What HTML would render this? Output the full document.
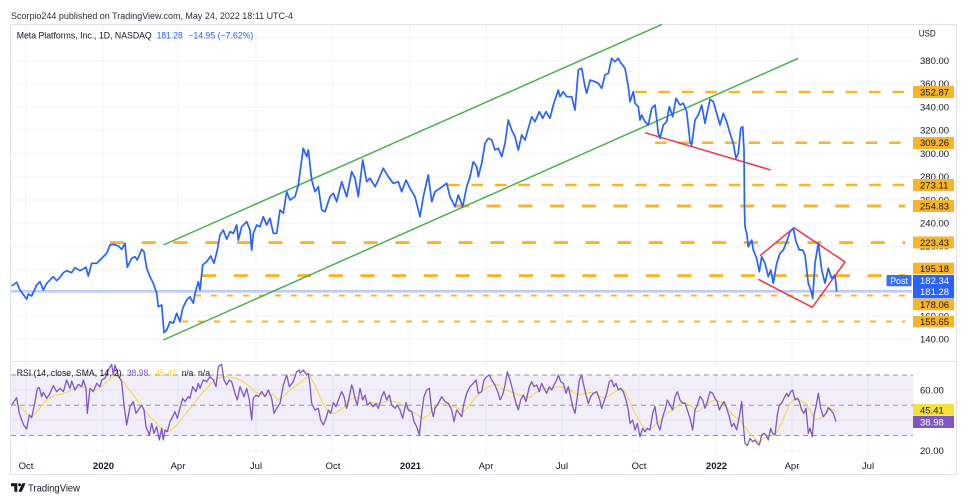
<!DOCTYPE html>
<html><head><meta charset="utf-8"><style>
html,body{margin:0;padding:0;background:#fff;}
body{width:969px;height:504px;overflow:hidden;}
svg{display:block;font-family:"Liberation Sans",Arial,sans-serif;}
</style></head><body>
<svg width="969" height="504" viewBox="0 0 969 504" xmlns="http://www.w3.org/2000/svg">
<rect width="969" height="504" fill="#fff"/>
<text x="11" y="19" font-size="8.8" fill="#2a2e39" textLength="282" lengthAdjust="spacingAndGlyphs">Scorpio244 published on TradingView.com, May 24, 2022 18:11 UTC-4</text>
<rect x="10.5" y="24.5" width="946" height="450" fill="none" stroke="#e0e3eb" stroke-width="1"/>
<g stroke="#f0f3fa" stroke-width="1">
<line x1="11" x2="913" y1="37.5" y2="37.5"/>
<line x1="11" x2="913" y1="60.7" y2="60.7"/>
<line x1="11" x2="913" y1="83.9" y2="83.9"/>
<line x1="11" x2="913" y1="107.1" y2="107.1"/>
<line x1="11" x2="913" y1="130.3" y2="130.3"/>
<line x1="11" x2="913" y1="153.6" y2="153.6"/>
<line x1="11" x2="913" y1="176.8" y2="176.8"/>
<line x1="11" x2="913" y1="200" y2="200"/>
<line x1="11" x2="913" y1="223.2" y2="223.2"/>
<line x1="11" x2="913" y1="246.4" y2="246.4"/>
<line x1="11" x2="913" y1="269.6" y2="269.6"/>
<line x1="11" x2="913" y1="292.8" y2="292.8"/>
<line x1="11" x2="913" y1="316" y2="316"/>
<line x1="11" x2="913" y1="339.3" y2="339.3"/>
<line x1="11" x2="913" y1="390" y2="390"/>
<line x1="11" x2="913" y1="420" y2="420"/>
<line x1="11" x2="913" y1="451" y2="451"/>
</g>
<g stroke="#f0f3fa" stroke-width="1">
<line x1="26" x2="26" y1="25" y2="455"/>
<line x1="103" x2="103" y1="25" y2="455"/>
<line x1="178" x2="178" y1="25" y2="455"/>
<line x1="256" x2="256" y1="25" y2="455"/>
<line x1="333" x2="333" y1="25" y2="455"/>
<line x1="410" x2="410" y1="25" y2="455"/>
<line x1="486" x2="486" y1="25" y2="455"/>
<line x1="562" x2="562" y1="25" y2="455"/>
<line x1="639" x2="639" y1="25" y2="455"/>
<line x1="716" x2="716" y1="25" y2="455"/>
<line x1="792" x2="792" y1="25" y2="455"/>
<line x1="868" x2="868" y1="25" y2="455"/>
</g>
<line x1="11" x2="957" y1="361.5" y2="361.5" stroke="#e0e3eb" stroke-width="1"/>

<text x="16.7" y="38.3" font-size="8.8" fill="#131722" textLength="135" lengthAdjust="spacingAndGlyphs">Meta Platforms, Inc., 1D, NASDAQ</text>
<text x="156.7" y="38.3" font-size="8.8" fill="#2962ff" textLength="26" lengthAdjust="spacingAndGlyphs">181.28</text>
<text x="188.3" y="38.3" font-size="8.8" fill="#2962ff" textLength="65" lengthAdjust="spacingAndGlyphs">−14.95 (−7.62%)</text>

<g stroke="#f9b52a" fill="none">
<line x1="635" x2="905" y1="92" y2="92" stroke-width="2.5" stroke-dasharray="11.7 11.7"/>
<line x1="655" x2="905" y1="142.8" y2="142.8" stroke-width="2.5" stroke-dasharray="11.7 11.7"/>
<line x1="448" x2="905" y1="185" y2="185" stroke-width="2.5" stroke-dasharray="11.7 11.7"/>
<line x1="455" x2="905" y1="206" y2="206" stroke-width="3" stroke-dasharray="14 17.7"/>
<line x1="110" x2="905" y1="242.6" y2="242.6" stroke-width="3" stroke-dasharray="14 17.7"/>
<line x1="202" x2="905" y1="275.6" y2="275.6" stroke-width="3" stroke-dasharray="14 17.7"/>
<line x1="195" x2="905" y1="295.5" y2="295.5" stroke-width="2" stroke-dasharray="6 10"/>
<line x1="182" x2="905" y1="321.5" y2="321.5" stroke-width="2" stroke-dasharray="6 10"/>
</g>
<line x1="11" x2="912" y1="291.3" y2="291.3" stroke="#bccdfa" stroke-width="2.5"/>

<g fill="none" stroke-width="1.5">
<line x1="163.3" y1="245" x2="662" y2="24.4" stroke="#4caf50"/>
<line x1="163.3" y1="340" x2="798.3" y2="58.3" stroke="#4caf50"/>
<line x1="645" y1="132.7" x2="770.7" y2="170" stroke="#f23645"/>
<polyline points="760,255.7 794,227.7 845,262 812.3,307.3 758.3,279.3" stroke="#f23645"/>
</g>

<polyline fill="none" stroke="#2962ff" stroke-width="1.7" stroke-linejoin="round" points="11.7,286 16.7,282.3 20,290 26.7,299.3 28.3,294 31.7,296 36.7,285 40,281.7 43.3,290 46.7,283.3 53.3,276.7 56.7,280.7 60,277.3 63.3,272.7 66.7,270.7 71.7,272.7 75,267.7 80,270.7 86,267.3 88.3,276 91.7,263.3 96.7,263.3 100,260 106.7,253.3 110,245 113.3,244.3 118.3,246 121.7,249.3 125,243.3 127.3,267.3 131.7,258.3 135,256.7 137.3,260 141.7,249.3 144,251.7 146.7,268.3 150,276.7 153.3,283.3 156.7,293.3 158.3,306.7 161.7,305 164,332.7 166.7,330 170,321.7 173.3,323.3 176.7,313.3 180,321.7 182.7,308.3 186.7,300 190,296.7 193.3,303.3 195,293.3 198.3,281.7 200,290 202.7,265 206.7,261.7 210.7,256 214,263.3 217.3,250 220,235 223.3,230 226.7,239.3 230,231.7 233.3,233.3 236.7,225 238.3,240 241.7,226.7 246.7,221.7 250,230 251.7,250 253.3,233.3 256.7,225 260,226.7 263.3,216.7 266.7,225 270,218.3 273.3,233.3 276.7,233.3 280,210 283.3,213.3 286.7,191.7 290,200 295,196.7 298.3,185 301.7,160 303.3,148.3 306.7,156.7 308.3,150 311.7,180 315,191.7 318.3,186.7 321.7,210 325,211.7 330,196.7 333.3,193.3 336.7,201.7 341.7,181.7 346.7,196.7 351.7,171.7 355,178.3 358.3,196.7 362.7,160 366.7,181.7 370,178.3 375,186.7 378.3,180 383.3,168.3 388.3,176.7 393.3,183.3 398.3,181.7 401.7,191.7 406,180 410,188.3 415,196.7 420,216.7 423.3,196.7 428.3,175 431.7,201.7 435,191.7 440,188.3 446.7,183.3 450,196.7 455,206.7 458.3,195 462.7,206.7 466.7,186.7 470,176.7 473.3,161.7 476.7,166.7 478.3,176.7 481.7,163.3 485,143.3 488.3,138.3 491.7,140 495,150 498.3,148.3 501.7,156.7 505,143.3 508.3,120 511.7,130 515,136.7 518.3,150 521.7,135 525,140 528.3,128.3 531.7,116.7 535,121.7 539.3,111.7 542.7,118.3 546,111.7 550,118.3 553.3,105 558.3,90 560,96.7 563.3,91.7 566.7,96.7 571.7,96.7 575,110 578.3,70 581.7,68.3 585,86.7 586.7,93.3 590,80 595,81.7 598.3,83.3 601.7,88.3 605,75 608.3,73.3 611.7,58.3 615,61.7 618.3,58.3 620,61.7 625,68.3 628.3,86.7 630,101.7 633.3,91.7 635,103.3 638.3,106.7 640,120 641.7,115 645,121.7 648.3,125 651.7,108.3 655,105 658.3,133.3 660,138.3 663.3,125 666.7,121.7 669.3,106.7 672.7,116.7 676,98.3 680,105 683.3,103.3 686.7,111.7 690,141.7 691.7,145 695,120 698.3,115 701.7,105 705,123.3 707.3,111.7 710,99.3 713.3,101.7 716.7,113.3 720,125 723.3,113.3 726.7,121.7 730,133.3 733.3,143.3 736,158.3 738.3,153.3 740.7,128.3 742.7,126.7 744,150 744.5,210 745,226.7 746.7,233.3 748.3,246.7 751.7,240 753.3,250 756.7,258.3 759.3,271.7 761.7,256.7 765,263.3 768.3,276.7 770.7,270 773.3,283.3 776.7,263.3 780,253.3 783.3,250 786.7,241.7 790,231.7 793.3,228.3 796,241.7 799.3,250 802.7,250 805,255 808.3,283.3 810.7,290 812.7,298.3 815,263.3 818.3,243.3 821.7,270 825,283.3 828.3,268.3 831.7,278.3 835,275 836.7,291.7"/>

<g font-size="9.5" fill="#131722">
<text x="918.7" y="36.5" font-size="8.8" textLength="17" lengthAdjust="spacingAndGlyphs">USD</text>
<text x="920" y="64">380.00</text>
<text x="920" y="87.2">360.00</text>
<text x="920" y="110.4">340.00</text>
<text x="920" y="133.6">320.00</text>
<text x="920" y="156.9">300.00</text>
<text x="920" y="180.1">280.00</text>
<text x="920" y="203.3">260.00</text>
<text x="920" y="226.5">240.00</text>
<text x="920" y="249.7">220.00</text>
<text x="920" y="272.9">200.00</text>
<text x="920" y="319.3">160.00</text>
<text x="920" y="342.6">140.00</text>
</g>
<g fill="#f9b52a">
<rect x="913" y="86" width="41" height="12"/>
<rect x="913" y="137" width="41" height="12"/>
<rect x="913" y="179" width="41" height="12"/>
<rect x="913" y="200" width="41" height="12"/>
<rect x="913" y="236.5" width="41" height="12"/>
<rect x="913" y="262.7" width="41" height="11.5"/>
<rect x="913" y="298.8" width="41" height="11.5"/>
<rect x="913" y="315.8" width="41" height="11.5"/>
</g>
<rect x="913" y="275" width="41" height="23.3" fill="#2962ff"/>
<rect x="886.5" y="275" width="25" height="11.2" fill="#3b6ef6" rx="1"/>
<g font-size="9.5" fill="#131722">
<text x="920" y="95.3">352.87</text>
<text x="920" y="146.1">309.26</text>
<text x="920" y="188.3">273.11</text>
<text x="920" y="209.3">254.83</text>
<text x="920" y="245.8">223.43</text>
<text x="920" y="271.8">195.18</text>
<text x="920" y="307.8">178.06</text>
<text x="920" y="324.8">155.65</text>
</g>
<g font-size="9.5" fill="#ffffff">
<text x="920" y="283.8">182.34</text>
<text x="920" y="294.8">181.28</text>
<text x="899" y="284" text-anchor="middle" font-size="8.8">Post</text>
</g>

<rect x="11" y="375" width="902" height="60.5" fill="#7e57c2" fill-opacity="0.1"/>
<g stroke="#9598a1" stroke-width="1" stroke-dasharray="5 4">
<line x1="11" x2="913" y1="375" y2="375"/>
<line x1="11" x2="913" y1="405.2" y2="405.2"/>
<line x1="11" x2="913" y1="435.5" y2="435.5"/>
</g>
<g fill="none" stroke="#f6d84a" stroke-width="1.1">
<path vector-effect="non-scaling-stroke" transform="translate(0,355) scale(0.333333)" d="M35,150 L50,145 60,155 75,170 90,185 100,182 115,165 130,145 145,130 165,120 185,118 205,110 225,100 245,95 265,105 285,105 305,95 325,75 345,62 365,72 380,95 400,120 420,148 440,175 460,195 480,215 495,230 510,228 530,210 550,185 570,160 590,135 610,110 630,90 650,70 670,65 690,68 710,70 730,80 750,95 765,110 785,120 805,120 820,118 835,135 850,125 870,105 890,90 900,85"/>
<path vector-effect="non-scaling-stroke" transform="translate(300,360) scale(0.333333)" d="M0,70 L15,55 30,50 45,75 60,110 75,140 90,160 105,160 120,150 135,140 150,120 165,110 180,115 195,120 210,125 225,130 240,130 255,125 270,122 285,125 300,130 315,140 330,150 345,160 360,170 370,175 385,165 400,145 415,130 430,130 445,135 460,140 475,145 490,155 505,140 520,120 535,105 550,90 565,80 580,75 595,74 600,78"/>
<path vector-effect="non-scaling-stroke" transform="translate(500,360) scale(0.333333)" d="M0,85 L15,90 30,95 45,100 60,105 75,110 90,112 105,100 120,90 135,85 150,88 165,82 180,80 195,85 210,90 225,100 240,105 255,100 270,97 285,100 300,110 315,115 330,105 345,95 360,88 372,90 385,115 400,150 415,180 430,200 445,210 455,205 470,190 485,180 500,160 515,150 530,140 545,125 560,130 575,140 590,155 600,152"/>
<path vector-effect="non-scaling-stroke" transform="translate(700,355) scale(0.333333)" d="M0,165 L15,150 30,140 45,135 60,140 75,150 90,170 105,185 120,195 135,215 150,235 165,250 178,264 190,250 205,245 225,240 240,215 255,180 270,145 285,130 300,135 315,145 330,165 345,195 360,190 375,180 390,160 408,170"/>
</g>
<g fill="none" stroke="#7e57c2" stroke-width="1.3" stroke-linejoin="round">
<path vector-effect="non-scaling-stroke" transform="translate(0,355) scale(0.333333)" d="M35,150 L50,128 58,175 65,195 72,212 80,222 88,180 95,188 105,140 112,100 118,98 125,125 130,112 140,130 150,115 160,92 170,110 180,100 190,110 200,75 210,100 215,78 225,105 235,88 245,95 250,75 258,100 262,175 270,100 280,110 290,85 300,95 305,75 315,70 325,45 335,28 340,60 345,30 355,62 365,80 372,150 380,210 390,155 400,140 408,175 418,160 425,150 432,165 438,215 448,240 455,205 462,235 470,215 478,255 485,220 490,255 495,225 502,230 510,200 518,185 525,170 532,190 540,160 548,130 555,140 565,125 570,130 578,95 588,110 595,85 600,100 610,75 620,80 630,65 640,75 648,95 655,35 665,28 672,75 680,90 688,75 695,80 705,115 712,135 720,95 732,125 740,100 748,135 755,195 760,130 768,120 775,125 785,110 795,125 805,105 815,130 822,175 830,160 840,145 850,90 860,60 868,95 880,80 890,50 898,45 900,55"/>
<path vector-effect="non-scaling-stroke" transform="translate(300,360) scale(0.333333)" d="M0,40 L10,30 20,45 25,40 30,75 35,130 45,150 55,145 62,180 70,195 78,175 85,150 92,160 100,128 108,140 115,120 125,95 132,110 140,145 148,110 155,75 160,90 165,115 172,135 180,85 188,120 195,105 202,135 210,128 220,140 228,130 235,145 245,110 252,95 260,120 268,105 275,135 285,145 292,135 300,150 308,175 318,128 325,150 335,155 342,185 350,200 358,225 365,160 372,110 380,90 388,85 395,150 400,170 405,145 415,130 425,110 435,125 445,130 455,150 462,185 470,150 478,160 485,170 492,130 500,100 510,80 520,70 528,60 535,100 545,95 552,60 560,50 568,45 575,60 585,75 595,100 600,120"/>
<path vector-effect="non-scaling-stroke" transform="translate(500,360) scale(0.333333)" d="M0,120 L8,105 15,75 22,35 30,60 38,90 45,120 55,150 62,120 70,105 78,125 88,80 95,65 102,80 110,75 118,95 125,70 132,85 140,100 148,80 155,90 162,75 170,60 175,45 182,65 190,70 198,100 205,80 212,110 218,140 225,160 232,110 238,60 245,45 252,80 258,105 265,130 272,110 280,100 290,95 298,115 305,145 312,125 320,100 328,65 335,60 342,80 348,70 355,90 362,85 370,95 378,120 385,150 390,190 398,180 405,210 412,190 420,230 428,205 435,215 442,205 450,210 458,160 465,140 472,190 480,210 488,170 495,150 502,120 510,135 518,150 525,110 532,95 540,120 548,130 555,130 562,150 570,175 578,210 585,150 592,135 600,108"/>
<path vector-effect="non-scaling-stroke" transform="translate(700,355) scale(0.333333)" d="M0,124 L8,135 15,160 22,140 30,110 38,115 45,130 52,140 58,165 65,150 72,140 80,160 88,185 95,215 102,205 110,225 118,185 125,140 130,210 135,265 142,272 150,250 158,260 165,255 172,265 178,270 185,240 192,235 198,240 205,255 212,220 218,235 225,240 232,180 238,150 245,145 252,130 260,115 265,125 272,110 278,105 285,135 292,130 298,140 305,165 312,175 318,160 325,235 330,220 337,245 342,180 348,155 355,115 362,160 370,185 378,175 385,158 392,165 400,175 408,200"/>
</g>
<text x="16.7" y="376" font-size="8.8" fill="#131722" textLength="105" lengthAdjust="spacingAndGlyphs">RSI (14, close, SMA, 14, 2)</text>
<text x="126.7" y="376" font-size="8.8" fill="#7e57c2" textLength="21.6" lengthAdjust="spacingAndGlyphs">38.98</text>
<text x="155" y="376" font-size="8.8" fill="#f2d43c" textLength="21.6" lengthAdjust="spacingAndGlyphs">45.41</text>
<text x="181.7" y="376" font-size="8.8" fill="#131722" textLength="11.6" lengthAdjust="spacingAndGlyphs">n/a</text>
<text x="198" y="376" font-size="8.8" fill="#131722" textLength="12" lengthAdjust="spacingAndGlyphs">n/a</text>
<g font-size="9.5" fill="#131722">
<text x="920" y="393.3">60.00</text>
<text x="920" y="454">20.00</text>
</g>
<rect x="913" y="404" width="41" height="11.8" fill="#f8e03c"/>
<rect x="913" y="416" width="41" height="12" fill="#7e57c2"/>
<text x="920" y="413.3" font-size="9.5" fill="#131722">45.41</text>
<text x="920" y="425.5" font-size="9.5" fill="#ffffff">38.98</text>

<g font-size="9.5" fill="#131722" text-anchor="middle">
<text x="26" y="469">Oct</text>
<text x="103.5" y="469" font-weight="bold">2020</text>
<text x="178" y="469">Apr</text>
<text x="256" y="469">Jul</text>
<text x="333" y="469">Oct</text>
<text x="410.5" y="469" font-weight="bold">2021</text>
<text x="486" y="469">Apr</text>
<text x="562" y="469">Jul</text>
<text x="639" y="469">Oct</text>
<text x="716.5" y="469" font-weight="bold">2022</text>
<text x="792" y="469">Apr</text>
<text x="868" y="469">Jul</text>
</g>

<g fill="#131722">
<path d="M11 483.3h6.3v8.4h-3v-5.4h-3.3z"/>
<circle cx="19.6" cy="484.8" r="1.5"/>
<polygon points="22.2,483.3 25.6,483.3 21.8,491.7 18.4,491.7"/>
</g>
<text x="28" y="491.6" font-size="10.5" fill="#131722" textLength="52" lengthAdjust="spacingAndGlyphs">TradingView</text>
</svg>
</body></html>
